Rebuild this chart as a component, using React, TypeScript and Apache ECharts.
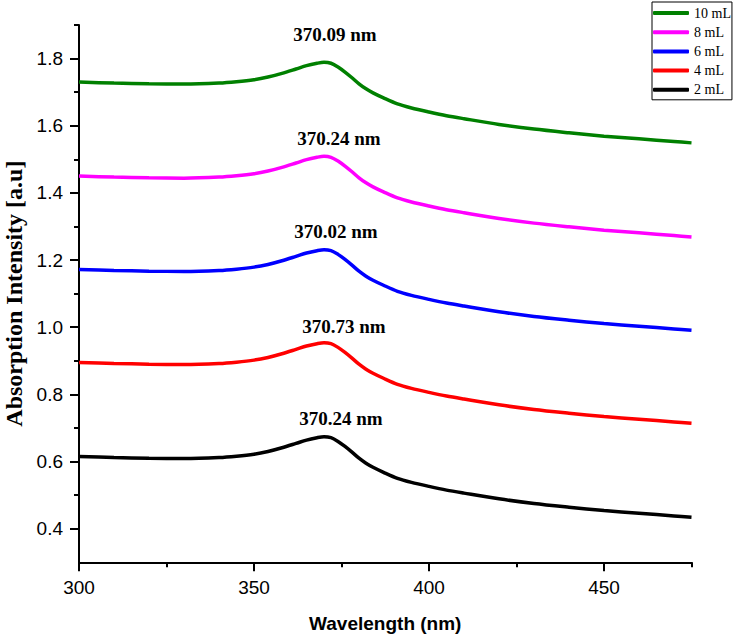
import React, { useEffect, useRef } from "react";
import * as echarts from "echarts";

const wavelengths = [300, 310, 320, 330, 340, 345, 350, 354, 358, 362, 365, 368, 370, 372, 374, 376, 378, 380, 382, 384, 387, 391, 395, 400, 405, 410, 420, 430, 440, 450, 460, 470, 475];

const seriesNames = ["2 mL", "4 mL", "6 mL", "8 mL", "10 mL"];
const legendOrder = ["10 mL", "8 mL", "6 mL", "4 mL", "2 mL"];
const peakLabels = ["370.24 nm", "370.73 nm", "370.02 nm", "370.24 nm", "370.09 nm"];
const seriesColors = ["#000000", "#ff0000", "#0000ff", "#ff00ff", "#008000"];

const values2mL = [0.615, 0.612, 0.610, 0.609, 0.612, 0.616, 0.622, 0.630, 0.641, 0.654, 0.664, 0.671, 0.674, 0.671, 0.660, 0.645, 0.628, 0.610, 0.595, 0.583, 0.568, 0.550, 0.538, 0.526, 0.515, 0.506, 0.489, 0.475, 0.464, 0.454, 0.446, 0.438, 0.434];
const values4mL = [0.895, 0.892, 0.890, 0.889, 0.892, 0.896, 0.902, 0.910, 0.921, 0.934, 0.944, 0.951, 0.954, 0.951, 0.940, 0.925, 0.908, 0.890, 0.875, 0.863, 0.848, 0.830, 0.818, 0.806, 0.795, 0.786, 0.769, 0.755, 0.744, 0.734, 0.726, 0.718, 0.714];
const values6mL = [1.172, 1.169, 1.167, 1.166, 1.169, 1.173, 1.179, 1.187, 1.198, 1.211, 1.221, 1.228, 1.231, 1.228, 1.217, 1.202, 1.185, 1.167, 1.152, 1.140, 1.125, 1.107, 1.095, 1.083, 1.072, 1.063, 1.046, 1.032, 1.021, 1.011, 1.003, 0.995, 0.991];
const values8mL = [1.450, 1.447, 1.445, 1.444, 1.447, 1.451, 1.457, 1.465, 1.476, 1.489, 1.499, 1.506, 1.509, 1.506, 1.495, 1.480, 1.463, 1.445, 1.430, 1.418, 1.403, 1.385, 1.373, 1.361, 1.350, 1.341, 1.324, 1.310, 1.299, 1.289, 1.281, 1.273, 1.269];
const values10mL = [1.730, 1.727, 1.725, 1.724, 1.727, 1.731, 1.737, 1.745, 1.756, 1.769, 1.779, 1.786, 1.789, 1.786, 1.775, 1.760, 1.743, 1.725, 1.710, 1.698, 1.683, 1.665, 1.653, 1.641, 1.630, 1.621, 1.604, 1.590, 1.579, 1.569, 1.561, 1.553, 1.549];

const allValues = [values2mL, values4mL, values6mL, values8mL, values10mL];

const xMajorTicks = [300, 350, 400, 450];
const xMinorTicks = [325, 375, 425, 475];
const yMajorTicks = [0.4, 0.6, 0.8, 1.0, 1.2, 1.4, 1.6, 1.8];
const yMinorTicks = [0.5, 0.7, 0.9, 1.1, 1.3, 1.5, 1.7, 1.9];

const labelOffsets = [[17, -18], [20, -16], [12, -18], [15, -18], [11, -28]];

const SERIF = "'Liberation Serif', 'Times New Roman', serif";
const SANS = "'Liberation Sans', Arial, sans-serif";

export default function App() {
  const ref = useRef<HTMLDivElement>(null);

  useEffect(() => {
    if (!ref.current) return;
    const chart = echarts.init(ref.current, null, { renderer: "svg" });
    const axisLineStyle = { color: "#000", width: 2 };

    const series = seriesNames.map((name, i) => {
      const vals = allValues[i];
      let k = 0;
      vals.forEach((v, j) => {
        if (v > vals[k]) k = j;
      });
      return {
        name,
        type: "line",
        smooth: 0.3,
        showSymbol: false,
        symbol: "none",
        color: seriesColors[i],
        lineStyle: { color: seriesColors[i], width: 3.5 },
        data: wavelengths.map((w, j) => [w, vals[j]]),
        markPoint: {
          silent: true,
          symbol: "circle",
          symbolSize: 0,
          itemStyle: { color: "transparent" },
          data: [{ coord: [wavelengths[k], vals[k]] }],
          label: {
            show: true,
            position: "inside",
            offset: labelOffsets[i],
            formatter: peakLabels[i],
            fontFamily: SERIF,
            fontWeight: "bold",
            fontSize: 19,
            color: "#000",
          },
        },
      };
    });

    chart.setOption({
      animation: false,
      backgroundColor: "#fff",
      grid: { left: 79, right: 43.5, top: 25, bottom: 73.7, containLabel: false, outerBoundsMode: "none" },
      legend: {
        data: legendOrder,
        orient: "vertical",
        left: 652,
        top: 2,
        icon: "roundRect",
        itemWidth: 36,
        itemHeight: 4,
        itemGap: 5.2,
        padding: [4, 1, 3, 1],
        borderColor: "#000",
        borderWidth: 1,
        backgroundColor: "#fff",
        textStyle: { fontFamily: SERIF, fontSize: 14, lineHeight: 14, color: "#000" },
      },
      xAxis: [
        {
          type: "value",
          min: 300,
          max: 475,
          position: "bottom",
          axisLine: { show: true, onZero: false, lineStyle: axisLineStyle },
          axisTick: { show: true, customValues: xMajorTicks, length: 9, lineStyle: axisLineStyle },
          axisLabel: { show: true, customValues: xMajorTicks, margin: 16, fontFamily: SANS, fontSize: 19, color: "#000" },
          splitLine: { show: false },
          name: "Wavelength (nm)",
          nameLocation: "middle",
          nameGap: 52,
          nameTextStyle: { fontFamily: SANS, fontWeight: "bold", fontSize: 19, color: "#000" },
        },
        {
          type: "value",
          min: 300,
          max: 475,
          position: "bottom",
          axisLine: { show: false, onZero: false },
          axisTick: { show: true, customValues: xMinorTicks, length: 5, lineStyle: axisLineStyle },
          axisLabel: { show: false },
          splitLine: { show: false },
        },
      ],
      yAxis: [
        {
          type: "value",
          min: 0.3,
          max: 1.9,
          position: "left",
          axisLine: { show: true, onZero: false, lineStyle: axisLineStyle },
          axisTick: { show: true, customValues: yMajorTicks, length: 9, lineStyle: axisLineStyle },
          axisLabel: {
            show: true,
            customValues: yMajorTicks,
            margin: 16,
            formatter: (v: number) => v.toFixed(1),
            fontFamily: SANS,
            fontSize: 19,
            color: "#000",
          },
          splitLine: { show: false },
          name: "Absorption Intensity [a.u]",
          nameLocation: "middle",
          nameGap: 50,
          nameTextStyle: { fontFamily: SERIF, fontWeight: "bold", fontSize: 24, color: "#000" },
        },
        {
          type: "value",
          min: 0.3,
          max: 1.9,
          position: "left",
          axisLine: { show: false, onZero: false },
          axisTick: { show: true, customValues: yMinorTicks, length: 5, lineStyle: axisLineStyle },
          axisLabel: { show: false },
          splitLine: { show: false },
        },
      ],
      series,
    });

    return () => chart.dispose();
  }, []);

  return (
    <div
      ref={ref}
      style={{ position: "fixed", left: 0, top: 0, width: 735, height: 636, background: "#fff" }}
    />
  );
}
